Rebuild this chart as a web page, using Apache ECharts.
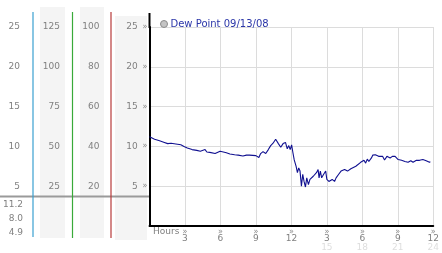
<!DOCTYPE html>
<html>
<head>
<meta charset="utf-8">
<script src="https://cdn.jsdelivr.net/npm/echarts@6/dist/echarts.min.js"></script>
<style>
html,body{margin:0;padding:0;background:#fff;}
#chart{width:442px;height:253px;}
</style>
</head>
<body>
<div id="chart"></div>
<script>
// ---- data ----
var seriesName = 'Dew Point 09/13/08';
var hours = [
  0.00,0.43,0.85,1.00,1.26,1.54,1.82,2.23,2.65,2.92,3.20,3.60,4.00,4.30,4.40,4.70,4.85,5.10,5.55,5.70,
  5.97,6.24,6.50,6.80,7.20,7.50,7.90,8.20,8.45,9.00,9.15,9.25,9.40,9.60,9.83,10.05,10.25,10.45,10.67,10.90,
  11.10,11.30,11.50,11.65,11.78,11.90,12.02,12.13,12.24,12.32,12.40,12.51,12.62,12.73,12.85,12.96,13.07,13.19,13.30,13.44,
  13.57,13.71,13.85,13.98,14.12,14.26,14.34,14.45,14.56,14.73,14.90,15.00,15.17,15.28,15.45,15.65,15.78,16.00,16.20,16.50,
  16.75,17.03,17.17,17.45,17.60,17.86,18.14,18.28,18.42,18.55,18.77,18.88,19.10,19.38,19.52,19.71,19.88,20.08,20.35,20.54,
  20.77,21.03,21.32,21.60,21.87,22.10,22.29,22.57,22.84,23.12,23.40,23.68,23.75
];
var dewPoint = [
  11.2,10.9,10.7,10.55,10.5,10.35,10.4,10.3,10.2,10.0,9.8,9.6,9.5,9.4,9.6,9.6,9.3,9.25,9.1,9.3,
  9.4,9.3,9.2,9.05,8.96,8.9,8.8,8.9,8.9,8.84,8.84,8.6,9.1,9.35,9.1,9.6,10.1,10.4,10.9,10.35,
  9.9,10.35,10.5,9.7,10.1,9.6,10.2,9.2,8.3,8.55,7.5,6.7,7.3,6.9,5.0,6.5,5.6,4.9,6.05,5.2,
  5.85,5.6,6.25,6.05,6.7,7.1,6.05,6.9,6.05,6.5,6.9,5.85,5.6,5.5,5.85,5.6,6.05,6.5,6.9,7.1,
  6.9,7.2,6.95,7.5,7.7,8.0,8.25,7.9,8.4,8.1,8.55,8.9,8.96,8.75,8.55,8.75,8.3,8.75,8.55,8.75,
  8.75,8.35,8.25,8.1,8.0,8.2,8.0,8.25,8.25,8.35,8.2,8.0,8.1
];
var xTickLabels   = ['3','6','9','12','3','6','9','12'];
var xTickLabels24 = ['','','','','15','18','21','24'];
var statLabels = ['11.2','8.0','4.9'];   // max, avg, min
var col1Max = 25, col1Step = 5;
var col2Max = 125, col2Step = 25;
var col3Max = 100, col3Step = 20;
var mainMax = 25, mainStep = 5;

// ---- layout ----
var FONT = 'DejaVu Sans';
var LBL = '#808080';
var MARK = '#8a8a8a';
var PLOT_TOP = 27, PLOT_H = 199;

var chart = echarts.init(document.getElementById('chart'), null, {renderer:'canvas'});

function hideZero(v){ return v === 0 ? '' : String(v); }

function sideGrid(left){
  return {left:left, top:PLOT_TOP, width:1, height:PLOT_H, show:false, containLabel:false};
}
function sideY(idx, max, step){
  return {
    type:'value', gridIndex:idx, min:0, max:max, interval:step,
    axisLine:{show:false}, axisTick:{show:false}, splitLine:{show:false},
    axisLabel:{margin:0, color:LBL, fontFamily:FONT, fontSize:9, formatter:hideZero}
  };
}
function sideX(idx){
  return {type:'value', gridIndex:idx, show:false, min:0, max:1};
}

var graphics = [
  // column panels
  {type:'rect', z:-10, shape:{x:40, y:7, width:25, height:231}, style:{fill:'#f4f4f4'}},
  {type:'rect', z:-10, shape:{x:80, y:7, width:24, height:231}, style:{fill:'#f4f4f4'}},
  {type:'rect', z:-10, shape:{x:115, y:16, width:32, height:224}, style:{fill:'#f4f4f4'}},
  // grey separator
  {type:'line', z:-5, shape:{x1:0, y1:196.5, x2:149, y2:196.5}, style:{stroke:'#9a9a9a', lineWidth:2}},
  // coloured column rules
  {type:'line', z:-4, shape:{x1:33, y1:12, x2:33, y2:237}, style:{stroke:'#3aa0d0', lineWidth:1.2}},
  {type:'line', z:-4, shape:{x1:72.5, y1:12, x2:72.5, y2:238}, style:{stroke:'#3aaa3a', lineWidth:1.2}},
  {type:'line', z:-4, shape:{x1:111, y1:12, x2:111, y2:238}, style:{stroke:'#b83a3a', lineWidth:1.2}},
  // axis line extension above plot
  {type:'line', z:10, shape:{x1:149.5, y1:13, x2:149.5, y2:PLOT_TOP+1}, style:{stroke:'#000', lineWidth:2}},
  // Hours caption
  {type:'text', z:10, left:153, top:227, style:{text:'Hours', fill:LBL, font:'9px "DejaVu Sans"'}}
];
var statY = [205, 218.3, 232.3];
statLabels.forEach(function(t, i){
  graphics.push({type:'text', z:10, x:23, y:statY[i],
    style:{text:t, fill:LBL, font:'9px "DejaVu Sans"', textAlign:'right', textVerticalAlign:'middle'}});
});

var option = {
  animation:false,
  backgroundColor:'#fff',
  legend:{
    left:155, top:14, itemWidth:7, itemHeight:7, icon:'circle', itemGap:4,
    textStyle:{color:'#2a35a8', fontFamily:FONT, fontSize:10, padding:[0,0,0,-2]},
    data:[{name:seriesName, itemStyle:{color:'#c4c4c4', borderColor:'#8c8c8c', borderWidth:1}}]
  },
  graphic:{elements:graphics},
  grid:[
    {left:149.5, top:PLOT_TOP, width:289.5, height:PLOT_H, show:false},
    sideGrid(20),
    sideGrid(60),
    sideGrid(99.5)
  ],
  xAxis:[
    {
      type:'value', gridIndex:0, min:0, max:24, interval:3,
      axisLine:{show:true, lineStyle:{color:'#000', width:2}},
      axisTick:{show:false},
      splitLine:{show:true, lineStyle:{color:'#dcdcdc', width:1}},
      axisLabel:{
        margin:2, color:LBL, fontFamily:FONT, fontSize:9,
        formatter:function(v){
          var i = Math.round(v/3) - 1;
          if (i < 0) return '';
          var s = '{m|»}\n{n|' + xTickLabels[i] + '}';
          if (xTickLabels24[i]) s += '\n{s|' + xTickLabels24[i] + '}';
          return s;
        },
        rich:{
          m:{fontSize:8, color:MARK, lineHeight:7, fontFamily:FONT},
          n:{fontSize:9, color:LBL, lineHeight:8, fontFamily:FONT},
          s:{fontSize:9, color:'#dedede', lineHeight:10, fontFamily:FONT}
        }
      }
    },
    sideX(1), sideX(2), sideX(3)
  ],
  yAxis:[
    {
      type:'value', gridIndex:0, min:0, max:mainMax, interval:mainStep,
      axisLine:{show:true, lineStyle:{color:'#000', width:2}},
      axisTick:{show:false},
      splitLine:{show:true, lineStyle:{color:'#dcdcdc', width:1}},
      axisLabel:{
        margin:2, color:LBL, fontFamily:FONT, fontSize:9,
        formatter:function(v){ return v === 0 ? '' : '{n|' + v + '}{m|»}'; },
        rich:{
          n:{fontSize:9, color:LBL, fontFamily:FONT},
          m:{fontSize:8, color:MARK, fontFamily:FONT, padding:[0,0,0,5]}
        }
      }
    },
    sideY(1, col1Max, col1Step),
    sideY(2, col2Max, col2Step),
    sideY(3, col3Max, col3Step)
  ],
  series:[{
    name:seriesName, type:'line', xAxisIndex:0, yAxisIndex:0,
    showSymbol:false, symbol:'none',
    lineStyle:{color:'#101090', width:1.1},
    itemStyle:{color:'#101090'},
    data: hours.map(function(h, i){ return [h, dewPoint[i]]; })
  }]
};
chart.setOption(option);
</script>
</body>
</html>
